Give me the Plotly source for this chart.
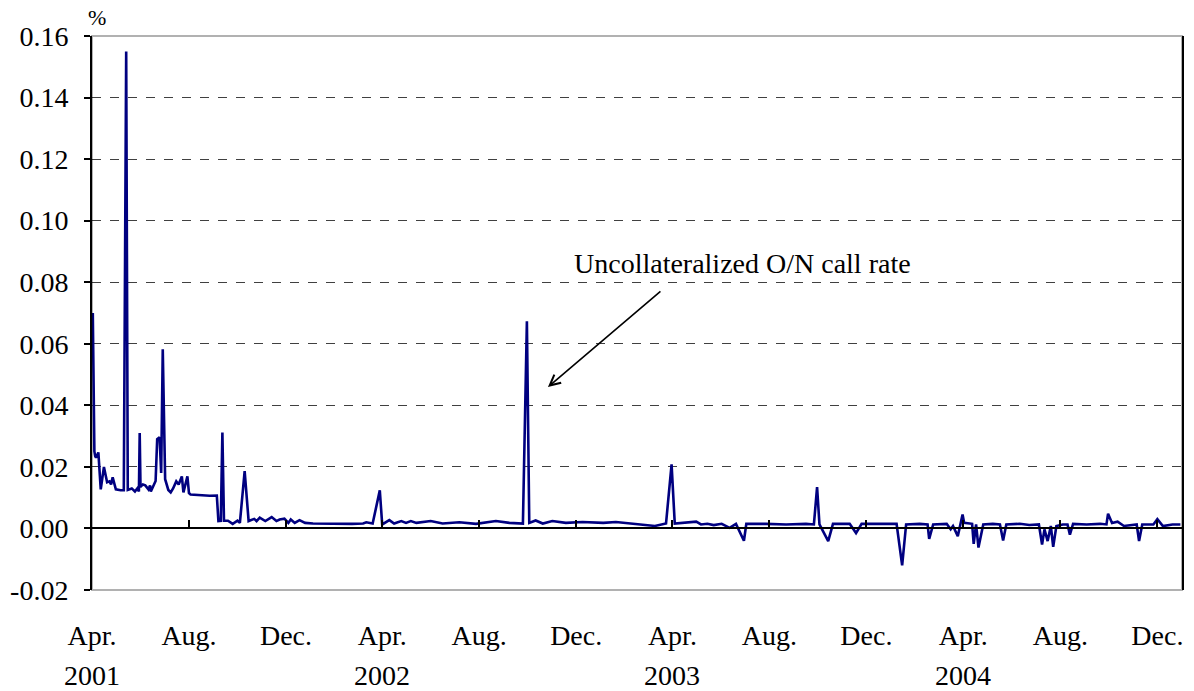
import plotly.graph_objects as go

# uncollateralized overnight call rate (%)
dates = [
    '2001-04-02', '2001-04-03', '2001-04-04', '2001-04-05', '2001-04-06', '2001-04-09',
    '2001-04-12', '2001-04-16', '2001-04-20', '2001-04-23', '2001-04-25', '2001-04-27',
    '2001-05-01', '2001-05-07', '2001-05-11', '2001-05-14', '2001-05-16', '2001-05-21',
    '2001-05-25', '2001-05-28', '2001-05-30', '2001-05-31', '2001-06-01', '2001-06-04',
    '2001-06-07', '2001-06-11', '2001-06-13', '2001-06-14', '2001-06-18', '2001-06-20',
    '2001-06-22', '2001-06-25', '2001-06-27', '2001-06-29', '2001-07-02', '2001-07-06',
    '2001-07-09', '2001-07-12', '2001-07-16', '2001-07-19', '2001-07-23', '2001-07-25',
    '2001-07-30', '2001-08-01', '2001-08-03', '2001-08-15', '2001-08-27', '2001-09-05',
    '2001-09-07', '2001-09-10', '2001-09-12', '2001-09-14', '2001-09-19', '2001-09-25',
    '2001-10-01', '2001-10-04', '2001-10-10', '2001-10-15', '2001-10-22', '2001-10-25',
    '2001-10-29', '2001-11-05', '2001-11-13', '2001-11-19', '2001-11-23', '2001-11-29',
    '2001-12-04', '2001-12-07', '2001-12-12', '2001-12-18', '2001-12-25', '2002-01-04',
    '2002-01-21', '2002-02-07', '2002-02-22', '2002-03-08', '2002-03-12', '2002-03-20',
    '2002-03-29', '2002-04-01', '2002-04-10', '2002-04-16', '2002-04-25', '2002-05-01',
    '2002-05-07', '2002-05-14', '2002-06-01', '2002-06-16', '2002-07-07', '2002-07-28',
    '2002-08-22', '2002-09-08', '2002-09-25', '2002-09-30', '2002-10-03', '2002-10-11',
    '2002-10-20', '2002-11-01', '2002-11-18', '2002-12-09', '2003-01-04', '2003-01-20',
    '2003-02-06', '2003-02-24', '2003-03-10', '2003-03-24', '2003-03-31', '2003-04-04',
    '2003-04-14', '2003-05-01', '2003-05-07', '2003-05-15', '2003-05-23', '2003-06-02',
    '2003-06-12', '2003-06-20', '2003-06-30', '2003-07-03', '2003-07-28', '2003-08-22',
    '2003-09-16', '2003-09-26', '2003-09-30', '2003-10-03', '2003-10-14', '2003-10-20',
    '2003-11-10', '2003-11-18', '2003-11-25', '2004-01-08', '2004-01-15', '2004-01-20',
    '2004-02-06', '2004-02-16', '2004-02-18', '2004-02-23', '2004-03-11', '2004-03-16',
    '2004-03-19', '2004-03-25', '2004-03-31', '2004-04-02', '2004-04-12', '2004-04-14',
    '2004-04-17', '2004-04-20', '2004-04-26', '2004-05-08', '2004-05-17', '2004-05-21',
    '2004-05-25', '2004-06-11', '2004-06-23', '2004-07-05', '2004-07-09', '2004-07-12',
    '2004-07-16', '2004-07-20', '2004-07-23', '2004-07-27', '2004-08-04', '2004-08-10',
    '2004-08-13', '2004-08-17', '2004-09-03', '2004-09-20', '2004-09-28', '2004-09-30',
    '2004-10-05', '2004-10-12', '2004-10-20', '2004-11-01', '2004-11-05', '2004-11-08',
    '2004-11-12', '2004-11-26', '2004-12-01', '2004-12-08', '2004-12-20', '2004-12-30',
]
call_rate = [
    0.0700, 0.0320, 0.0250, 0.0235, 0.0230, 0.0247,
    0.0127, 0.0200, 0.0150, 0.0153, 0.0143, 0.0166,
    0.0127, 0.0124, 0.0124, 0.1550, 0.0125, 0.0130,
    0.0120, 0.0130, 0.0120, 0.0310, 0.0135, 0.0143,
    0.0140, 0.0127, 0.0140, 0.0120, 0.0143, 0.0154,
    0.0290, 0.0296, 0.0180, 0.0582, 0.0160, 0.0125,
    0.0117, 0.0130, 0.0153, 0.0143, 0.0169, 0.0117,
    0.0169, 0.0115, 0.0110, 0.0107, 0.0106, 0.0107,
    0.0024, 0.0025, 0.0312, 0.0025, 0.0025, 0.0015,
    0.0025, 0.0018, 0.0186, 0.0024, 0.0031, 0.0024,
    0.0035, 0.0024, 0.0037, 0.0024, 0.0029, 0.0032,
    0.0018, 0.0029, 0.0018, 0.0027, 0.0018, 0.0016,
    0.0015, 0.0015, 0.0015, 0.0016, 0.0020, 0.0016,
    0.0124, 0.0013, 0.0027, 0.0016, 0.0024, 0.0018,
    0.0024, 0.0018, 0.0024, 0.0016, 0.0020, 0.0015,
    0.0024, 0.0018, 0.0016, 0.0673, 0.0018, 0.0026,
    0.0016, 0.0024, 0.0018, 0.0021, 0.0018, 0.0021,
    0.0016, 0.0013, 0.0008, 0.0016, 0.0208, 0.0016,
    0.0018, 0.0022, 0.0013, 0.0015, 0.0011, 0.0015,
    0.0002, 0.0015, -0.0040, 0.0015, 0.0015, 0.0013,
    0.0015, 0.0013, 0.0134, 0.0013, -0.0041, 0.0015,
    0.0015, -0.0015, 0.0015, 0.0015, -0.0120, 0.0013,
    0.0015, 0.0013, -0.0034, 0.0013, 0.0015, -0.0003,
    0.0008, -0.0025, 0.0045, 0.0018, 0.0015, -0.0050,
    0.0013, -0.0062, 0.0013, 0.0015, 0.0013, -0.0039,
    0.0013, 0.0015, 0.0011, 0.0013, -0.0052, -0.0003,
    -0.0041, 0.0008, -0.0060, 0.0008, 0.0013, 0.0013,
    -0.0020, 0.0015, 0.0013, 0.0015, 0.0013, 0.0048,
    0.0018, 0.0022, 0.0008, 0.0013, 0.0013, -0.0041,
    0.0013, 0.0013, 0.0030, 0.0008, 0.0013, 0.0013,
]

tick_dates = ['2001-04-01', '2001-08-01', '2001-12-01', '2002-04-01', '2002-08-01', '2002-12-01',
              '2003-04-01', '2003-08-01', '2003-12-01', '2004-04-01', '2004-08-01', '2004-12-01']
tick_months = ['Apr.', 'Aug.', 'Dec.'] * 4
year_dates = ['2001-04-01', '2002-04-01', '2003-04-01', '2004-04-01']
year_labels = ['2001', '2002', '2003', '2004']
y_ticks = [-0.02, 0.0, 0.02, 0.04, 0.06, 0.08, 0.10, 0.12, 0.14, 0.16]
y_labels = ['-0.02', '0.00', '0.02', '0.04', '0.06', '0.08', '0.10', '0.12', '0.14', '0.16']

font_family = 'Liberation Serif, Times New Roman, serif'
line_color = '#000080'

y_min, y_max = -0.02, 0.16

fig = go.Figure()

fig.add_trace(
    go.Scatter(
        x=dates,
        y=call_rate,
        mode='lines',
        line=dict(color=line_color, width=2.6),
        name='Uncollateralized O/N call rate',
        showlegend=False
    )
)

# year labels under each April
for d, label in zip(year_dates, year_labels):
    fig.add_annotation(
        text=label,
        xref='x', yref='paper',
        x=d, y=-0.1535,
        xanchor='center', yanchor='middle',
        showarrow=False,
        font=dict(size=28)
    )

fig.add_annotation(
    text='%',
    xref='paper', yref='paper',
    x=0.0046, y=1.0325,
    xanchor='center', yanchor='middle',
    showarrow=False,
    font=dict(size=22)
)

fig.add_annotation(
    text='Uncollateralized O/N call rate',
    xref='paper', yref='paper',
    x=0.597, y=0.590,
    xanchor='center', yanchor='middle',
    showarrow=False,
    font=dict(size=28)
)

fig.add_annotation(
    text='',
    xref='paper', yref='paper',
    x=0.4183, y=0.3664,
    ax=114, ay=-97,
    showarrow=True,
    arrowhead=5,
    arrowsize=1.3,
    arrowwidth=1.6,
    arrowcolor='black'
)

# plot frame
fig.add_shape(
    type='rect',
    xref='paper', yref='paper',
    x0=0, x1=1, y0=0, y1=1,
    line=dict(color='black', width=2),
    fillcolor='rgba(0,0,0,0)',
    layer='above'
)

fig.update_layout(
    width=1194,
    height=691,
    template='simple_white',
    showlegend=False,
    plot_bgcolor='white',
    paper_bgcolor='white',
    font=dict(family=font_family, size=28, color='black'),
    margin=dict(
        autoexpand=False,
        l=92,
        r=12,
        t=36,
        b=101
    ),
    # x axis drawn along the zero line, ticks pointing up, labels pushed below the frame
    xaxis=dict(
        type='date',
        range=['2001-04-01', '2005-01-01'],
        anchor='free',
        position=(0 - y_min) / (y_max - y_min),
        side='bottom',
        tickvals=tick_dates,
        ticktext=tick_months,
        ticks='inside',
        ticklen=7,
        tickwidth=2,
        tickcolor='black',
        showgrid=False,
        showline=True,
        linecolor='black',
        linewidth=2,
        mirror=False,
        ticklabelstandoff=82,
        tickfont=dict(size=28)
    ),
    yaxis=dict(
        range=[y_min, y_max],
        tickvals=y_ticks,
        ticktext=y_labels,
        ticks='outside',
        ticklen=6,
        tickwidth=1.5,
        tickcolor='black',
        showgrid=True,
        gridcolor='#404040',
        gridwidth=1,
        griddash='dash',
        zeroline=False,
        showline=True,
        mirror=True,
        linecolor='black',
        linewidth=2,
        ticklabelstandoff=10,
        tickfont=dict(size=28)
    )
)

fig.write_html('out.html', config={'displayModeBar': False},
               post_script="document.body.style.margin='0';")
